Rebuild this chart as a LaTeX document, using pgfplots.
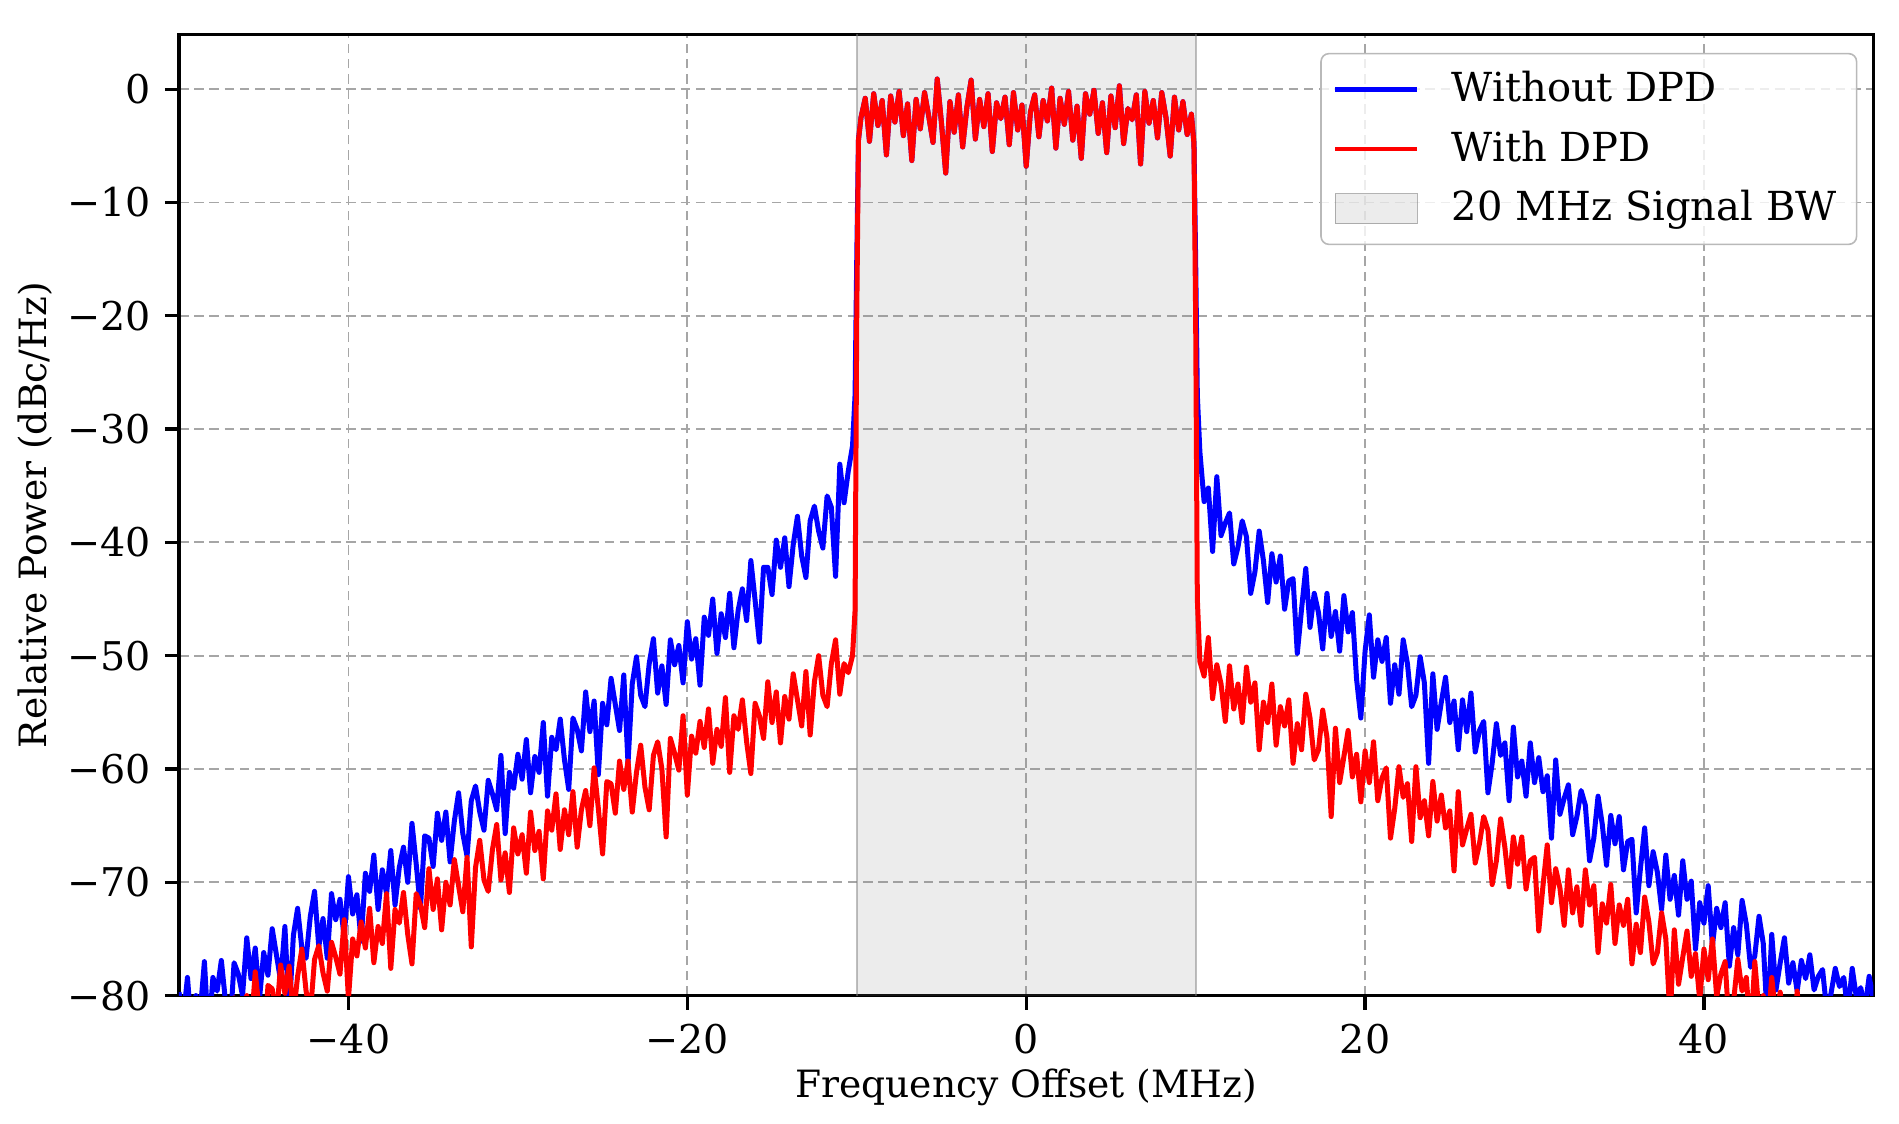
\documentclass[border=0pt]{standalone}
\usepackage{fontspec}
\setmainfont{DejaVu Serif}
\usepackage{pgfplots}
\pgfplotsset{compat=1.18}
\usepackage{pgfplotstable}
\pgfplotsset{
  linelegend/.style={legend image code/.code={\draw[##1, line width=1.2pt] (0pt,0pt) -- (20.5pt,0pt); \path (26.5pt,0pt);}},
  bandlegend/.style={legend image code/.code={\draw[##1, sharp corners] (0pt,-3.75pt) rectangle (20.5pt,3.75pt); \path (26.5pt,0pt);}},
}

\pgfplotstableread{
x b r
-50 -79.7 -86.5
-49.75 -82.0 -84.7
-49.5 -78.4 -88.0
-49.25 -83.2 -82.6
-49 -80.0 -85.9
-48.75 -81.5 -84.1
-48.5 -77.0 -88.2
-48.25 -83.6 -82.2
-48 -78.4 -83.9
-47.75 -79.6 -80.6
-47.5 -76.9 -85.4
-47.25 -80.6 -81.9
-47 -83.3 -84.0
-46.75 -77.1 -80.2
-46.5 -78.1 -85.0
-46.25 -80.0 -81.8
-46 -74.9 -80.0
-45.75 -78.5 -83.1
-45.5 -75.8 -77.9
-45.25 -80.3 -81.6
-45 -76.2 -85.5
-44.75 -78.2 -79.1
-44.5 -74.1 -79.4
-44.25 -76.4 -81.9
-44 -78.7 -77.3
-43.75 -73.9 -79.8
-43.5 -81.7 -77.4
-43.25 -74.7 -81.8
-43 -72.3 -78.3
-42.75 -75.8 -75.9
-42.5 -76.7 -79.6
-42.25 -73.0 -81.6
-42 -70.8 -76.8
-41.75 -75.7 -75.6
-41.5 -73.2 -78.0
-41.25 -76.7 -79.6
-41 -71.0 -75.3
-40.75 -73.3 -76.6
-40.5 -71.5 -78.1
-40.25 -74.9 -73.3
-40 -69.5 -80.3
-39.75 -72.8 -75.0
-39.5 -71.1 -76.5
-39.25 -75.2 -73.5
-39 -69.2 -75.8
-38.75 -70.8 -72.3
-38.5 -67.6 -77.1
-38.25 -72.4 -73.9
-38 -68.9 -75.4
-37.75 -71.0 -71.0
-37.5 -67.2 -77.6
-37.25 -72.0 -72.4
-37 -68.7 -73.6
-36.75 -66.9 -70.9
-36.5 -70.0 -74.6
-36.25 -64.8 -77.2
-36 -68.4 -71.0
-35.75 -72.3 -72.0
-35.5 -65.9 -74.0
-35.25 -66.1 -68.8
-35 -68.6 -72.4
-34.75 -63.9 -69.7
-34.5 -66.3 -74.2
-34.25 -63.8 -70.0
-34 -68.2 -72.0
-33.75 -64.6 -68.0
-33.5 -62.1 -70.3
-33.25 -65.7 -72.6
-33 -67.7 -67.8
-32.75 -62.8 -75.7
-32.5 -61.5 -68.7
-32.25 -63.8 -66.3
-32 -65.4 -69.8
-31.75 -61.0 -70.8
-31.5 -62.2 -67.1
-31.25 -63.6 -64.9
-31 -58.8 -69.8
-30.75 -65.7 -67.4
-30.5 -60.3 -70.9
-30.25 -61.7 -65.2
-30 -58.7 -67.5
-29.75 -60.9 -65.8
-29.5 -57.4 -69.2
-29.25 -62.1 -63.8
-29 -58.9 -67.2
-28.75 -60.3 -65.5
-28.5 -55.9 -69.7
-28.25 -62.4 -63.7
-28 -57.2 -65.4
-27.75 -58.3 -62.2
-27.5 -55.6 -67.1
-27.25 -59.2 -63.6
-27 -61.8 -65.8
-26.75 -55.5 -62.0
-26.5 -56.5 -66.9
-26.25 -58.4 -63.6
-26 -53.2 -61.9
-25.75 -56.7 -65.0
-25.5 -54.0 -59.9
-25.25 -60.5 -63.5
-25 -54.2 -67.5
-24.75 -56.1 -61.1
-24.5 -52.0 -61.3
-24.25 -54.3 -63.9
-24 -56.6 -59.3
-23.75 -51.7 -61.8
-23.5 -59.5 -59.3
-23.25 -52.5 -63.8
-23 -50.1 -60.3
-22.75 -53.5 -57.9
-22.5 -54.5 -61.6
-22.25 -50.7 -63.6
-22 -48.5 -58.8
-21.75 -53.3 -57.6
-21.5 -50.9 -60.0
-21.25 -54.3 -66.0
-21 -48.6 -57.3
-20.75 -50.8 -58.6
-20.5 -49.1 -60.1
-20.25 -52.4 -55.3
-20 -47.0 -62.3
-19.75 -50.3 -57.1
-19.5 -48.5 -58.6
-19.25 -52.6 -55.8
-19 -46.6 -58.1
-18.75 -48.2 -54.7
-18.5 -45.0 -59.5
-18.25 -49.8 -56.5
-18 -46.3 -58.0
-17.75 -48.4 -53.7
-17.5 -44.5 -60.3
-17.25 -49.3 -55.3
-17 -46.0 -56.5
-16.75 -44.1 -53.9
-16.5 -46.9 -57.6
-16.25 -41.6 -60.4
-16 -45.1 -54.2
-15.75 -48.8 -55.3
-15.5 -42.2 -57.3
-15.25 -42.2 -52.3
-15 -44.6 -55.9
-14.75 -39.8 -53.2
-14.5 -42.2 -57.7
-14.25 -39.6 -53.6
-14 -43.9 -55.6
-13.75 -40.2 -51.6
-13.5 -37.7 -53.9
-13.25 -41.2 -56.2
-13 -43.1 -51.4
-12.75 -38.1 -57.0
-12.5 -36.8 -52.3
-12.25 -39.0 -50.0
-12 -40.5 -53.5
-11.75 -35.9 -54.5
-11.5 -36.9 -50.7
-11.25 -43.0 -48.6
-11 -33.1 -53.4
-10.75 -36.5 -50.7
-10.5 -33.7 -51.5
-10.25 -31.5 -50.0
-10.1 -27.0 -46.0
-10.0 -15.0 -20.0
-9.9 -4.5 -4.5
-9.75 -2.5 -2.5
-9.5 -0.8 -0.8
-9.25 -4.6 -4.6
-9.0 -0.4 -0.4
-8.75 -3.2 -3.2
-8.5 -1.0 -1.0
-8.25 -5.8 -5.8
-8.0 -0.6 -0.6
-7.75 -2.9 -2.9
-7.5 -0.2 -0.2
-7.25 -4.1 -4.1
-7.0 -1.3 -1.3
-6.75 -6.3 -6.3
-6.5 -0.9 -0.9
-6.25 -3.5 -3.5
-6.0 -0.3 -0.3
-5.75 -2.4 -2.4
-5.5 -4.7 -4.7
-5.25 0.9 0.9
-5.0 -3.0 -3.0
-4.75 -7.4 -7.4
-4.5 -1.1 -1.1
-4.25 -3.8 -3.8
-4.0 -0.5 -0.5
-3.75 -5.1 -5.1
-3.5 -1.6 -1.6
-3.25 0.8 0.8
-3.0 -4.4 -4.4
-2.75 -0.9 -0.9
-2.5 -3.3 -3.3
-2.25 -0.4 -0.4
-2.0 -5.5 -5.5
-1.75 -1.2 -1.2
-1.5 -2.6 -2.6
-1.25 -0.7 -0.7
-1.0 -4.9 -4.9
-0.75 -0.3 -0.3
-0.5 -3.6 -3.6
-0.25 -1.4 -1.4
0.0 -6.8 -6.8
0.25 -2.0 -2.0
0.5 -0.5 -0.5
0.75 -4.2 -4.2
1.0 -1.0 -1.0
1.25 -2.8 -2.8
1.5 0.1 0.1
1.75 -5.2 -5.2
2.0 -0.8 -0.8
2.25 -3.1 -3.1
2.5 -0.2 -0.2
2.75 -4.5 -4.5
3.0 -1.5 -1.5
3.25 -6.1 -6.1
3.5 -0.4 -0.4
3.75 -2.2 -2.2
4.0 -0.1 -0.1
4.25 -3.9 -3.9
4.5 -1.2 -1.2
4.75 -5.6 -5.6
5.0 -0.6 -0.6
5.25 -3.4 -3.4
5.5 0.3 0.3
5.75 -4.8 -4.8
6.0 -1.7 -1.7
6.25 -2.7 -2.7
6.5 -0.5 -0.5
6.75 -6.6 -6.6
7.0 -0.2 -0.2
7.25 -3.0 -3.0
7.5 -1.0 -1.0
7.75 -4.3 -4.3
8.0 -0.3 -0.3
8.25 -2.5 -2.5
8.5 -5.9 -5.9
8.75 -0.7 -0.7
9.0 -3.6 -3.6
9.25 -1.1 -1.1
9.5 -4.0 -4.0
9.75 -2.2 -2.2
9.9 -4.8 -4.8
10.0 -15.0 -20.0
10.1 -27.0 -45.0
10.25 -32.0 -50.5
10.5 -36.4 -51.8
10.75 -35.2 -48.4
11 -40.8 -53.8
11.25 -34.2 -50.8
11.5 -39.4 -52.5
11.75 -38.3 -55.8
12 -37.4 -50.9
12.25 -41.9 -54.7
12.5 -40.4 -52.5
12.75 -38.1 -55.9
13 -39.5 -51.0
13.25 -44.5 -54.1
13.5 -42.6 -52.4
13.75 -39.0 -58.3
14 -41.6 -54.1
14.25 -45.3 -55.9
14.5 -41.0 -52.5
14.75 -43.5 -57.9
15 -41.2 -54.5
15.25 -45.9 -56.2
15.5 -43.4 -53.9
15.75 -43.2 -59.5
16 -49.8 -56.0
16.25 -45.9 -58.3
16.5 -42.3 -53.4
16.75 -47.5 -55.5
17 -44.5 -59.2
17.25 -46.2 -58.3
17.5 -49.4 -54.8
17.75 -44.5 -57.2
18 -48.3 -64.2
18.25 -46.1 -56.4
18.5 -49.6 -61.2
18.75 -44.7 -58.9
19 -47.9 -56.6
19.25 -46.2 -60.7
19.5 -52.1 -58.7
19.75 -55.5 -62.9
20 -49.6 -58.4
20.25 -46.4 -61.2
20.5 -51.9 -57.6
20.75 -48.6 -62.8
21 -50.5 -60.8
21.25 -48.4 -59.9
21.5 -54.2 -66.1
21.75 -50.8 -63.5
22 -53.4 -59.8
22.25 -48.6 -62.5
22.5 -50.7 -61.3
22.75 -54.5 -66.4
23 -53.5 -59.8
23.25 -50.1 -64.3
23.5 -52.4 -62.8
23.75 -59.5 -65.9
24 -51.6 -61.1
24.25 -56.5 -64.6
24.5 -54.1 -62.3
24.75 -51.9 -65.2
25 -55.9 -63.7
25.25 -54.0 -69.0
25.5 -58.3 -62.0
25.75 -53.9 -66.7
26 -56.7 -65.3
26.25 -53.3 -64.0
26.5 -58.5 -68.3
26.75 -56.6 -66.6
27 -55.8 -64.2
27.25 -62.1 -65.4
27.5 -59.5 -70.2
27.75 -56.0 -68.1
28 -58.8 -64.4
28.25 -57.7 -66.9
28.5 -62.8 -70.4
28.75 -56.3 -66.0
29 -60.7 -68.4
29.25 -59.3 -66.0
29.5 -62.4 -70.6
29.75 -57.7 -68.1
30 -61.2 -67.8
30.25 -59.0 -74.3
30.5 -62.0 -70.3
30.75 -60.6 -66.7
31 -66.1 -71.8
31.25 -59.2 -68.8
31.5 -64.0 -70.5
31.75 -62.6 -73.8
32 -61.4 -68.9
32.25 -65.8 -72.7
32.5 -64.2 -70.4
32.75 -61.9 -73.8
33 -63.2 -68.9
33.25 -68.1 -72.0
33.5 -66.1 -70.3
33.75 -62.4 -76.2
34 -64.9 -71.9
34.25 -68.5 -73.6
34.5 -64.1 -70.2
34.75 -66.6 -75.4
35 -64.2 -72.0
35.25 -68.9 -73.8
35.5 -66.4 -71.5
35.75 -66.2 -77.2
36 -72.7 -73.7
36.25 -68.8 -76.2
36.5 -65.2 -71.3
36.75 -70.3 -73.5
37 -67.3 -77.2
37.25 -69.1 -76.2
37.5 -72.4 -72.7
37.75 -67.6 -75.0
38 -71.5 -82.0
38.25 -69.4 -74.2
38.5 -72.9 -79.0
38.75 -68.1 -76.6
39 -71.5 -74.3
39.25 -69.9 -78.3
39.5 -75.9 -76.3
39.75 -71.8 -80.4
40 -73.6 -75.9
40.25 -70.3 -78.6
40.5 -75.6 -75.0
40.75 -72.3 -80.1
41 -74.0 -78.1
41.25 -71.8 -77.0
41.5 -77.4 -83.2
41.75 -74.0 -80.5
42 -76.4 -76.8
42.25 -71.6 -79.6
42.5 -73.7 -78.4
42.75 -77.5 -83.6
43 -76.5 -77.0
43.25 -73.0 -81.5
43.5 -75.4 -80.0
43.75 -82.5 -83.2
44 -74.6 -78.4
44.25 -79.5 -82.0
44.5 -77.1 -79.7
44.75 -74.9 -82.7
45 -78.9 -81.2
45.25 -77.1 -86.6
45.5 -79.6 -79.6
45.75 -76.9 -84.4
46 -78.5 -84.0
46.25 -76.4 -81.7
46.5 -79.5 -86.0
46.75 -78.3 -84.5
47 -77.7 -85.0
47.25 -81.4 -86.5
47.5 -79.8 -84.0
47.75 -77.6 -86.0
48 -79.2 -85.5
48.25 -78.4 -87.0
48.5 -81.5 -85.0
48.75 -77.6 -86.5
49 -80.2 -87.0
49.25 -79.3 -86.0
49.5 -81.2 -88.0
49.75 -78.3 -86.5
50 -80.4 -87.5
}\spectrum

\begin{document}
\begin{tikzpicture}
\useasboundingbox (-44.75pt,-32.1pt) rectangle (430pt,248.9pt);
\begin{axis}[
  width=423.6pt, height=240.2pt, scale only axis,
  xmin=-50, xmax=50, ymin=-80, ymax=4.8,
  xtick={-40,-20,0,20,40}, xticklabels={−40,−20,0,20,40},
  ytick={-80,-70,-60,-50,-40,-30,-20,-10,0},
  yticklabels={−80,−70,−60,−50,−40,−30,−20,−10,0},
  tick align=outside, tick pos=left, major tick length=3.5pt,
  tick style={black, line width=0.8pt},
  axis line style={line width=0.8pt},
  grid=major,
  major grid style={gray!70, line width=0.45pt, dash pattern=on 2.4pt off 1.4pt},
  ticklabel style={font=\fontsize{9.9}{11}\selectfont},
  xlabel={Frequency Offset (MHz)}, ylabel={Relative Power (dBc/Hz)},
  label style={font=\fontsize{9.4}{11}\selectfont},
  xlabel style={at={(axis description cs:0.5,-0.0952)}, anchor=center},
  ylabel style={at={(axis description cs:-0.0847,0.5)}, anchor=center},
  legend style={at={(1,1)}, anchor=north east, xshift=-4pt, yshift=-4.5pt,
    draw=gray!55, rounded corners=2pt, fill=white, fill opacity=0.8, text opacity=1,
    font=\fontsize{10}{12}\selectfont, inner xsep=3pt, inner ysep=2.4pt,
    row sep=1.8pt, cells={anchor=west}},
  linelegend,
]
\addplot[fill=gray, fill opacity=0.15, draw=gray, draw opacity=0.5, line width=0.5pt, forget plot]
  coordinates {(-10,-90) (-10,10) (10,10) (10,-90)} -- cycle;
\addplot[blue, line width=1.25pt, line join=round] table[x=x, y=b] {\spectrum};
\addlegendentry{Without DPD}
\addplot[red, line width=1.25pt, line join=round] table[x=x, y=r] {\spectrum};
\addlegendentry{With DPD}
\addlegendimage{area legend, fill=gray, fill opacity=0.15, draw=gray, draw opacity=0.6, bandlegend}
\addlegendentry{20 MHz Signal BW}
\end{axis}
\end{tikzpicture}
\end{document}
